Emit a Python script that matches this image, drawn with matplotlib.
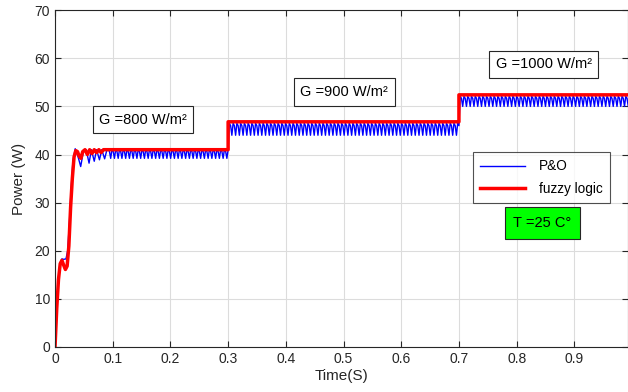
import numpy as np
import matplotlib.pyplot as plt

plt.rcParams['font.family'] = ['Liberation Sans', 'DejaVu Sans']

# fuzzy logic output power (W)
fz_t = [0, 0.003, 0.006, 0.009, 0.012, 0.015, 0.018, 0.021, 0.024, 0.027,
        0.030, 0.033, 0.036, 0.039, 0.042, 0.045, 0.048, 0.052, 0.056, 0.060,
        0.064, 0.068, 0.072, 0.076, 0.080, 0.084, 0.090, 0.300, 0.300, 0.700,
        0.700, 1.000]
fz_p = [0, 8, 14, 17.3, 18, 17, 16.1, 16.8, 21, 29,
        35, 39.5, 40.8, 40.6, 39.6, 39.2, 40.6, 41, 40, 41,
        40.2, 41, 40.4, 41, 40.4, 41, 41, 41, 46.8, 46.8,
        52.4, 52.4]

# P&O start-up transient
po_t = [0, 0.003, 0.006, 0.009, 0.012, 0.015, 0.019, 0.022, 0.025, 0.028,
        0.031, 0.035, 0.040, 0.0445, 0.049, 0.054, 0.059, 0.063, 0.068,
        0.072, 0.077, 0.081, 0.086, 0.090]
po_p = [0, 8, 14, 17.5, 18.3, 18.2, 18.3, 20, 26, 33,
        38.5, 41.2, 39.5, 37.5, 40.5, 41, 38.2, 41, 38.6, 41,
        38.9, 41, 39.1, 41]

# P&O steady ripple per irradiance step: start, end, low, high
seg_start = [0.090, 0.300, 0.700]
seg_end = [0.300, 0.700, 1.000]
seg_low = [39.2, 44.0, 50.0]
seg_high = [41.0, 46.5, 52.1]
ripple_period = 0.0065
# one ripple cycle as fraction of the band (sharp dip, broad top)
ripple_shape = [1.0, 0.8, 0.0]

t_all = list(po_t)
p_all = list(po_p)
k = len(ripple_shape)
for a, b, lo, hi in zip(seg_start, seg_end, seg_low, seg_high):
    n = int(round((b - a) / (ripple_period / k)))
    ts = np.linspace(a, b, n + 1)[1:]
    frac = np.tile(ripple_shape, n // k + 1)[:n]
    t_all += list(ts)
    p_all += list(lo + frac * (hi - lo))

fig = plt.figure(figsize=(6.28, 3.92), dpi=100)
ax = fig.add_axes([0.0876, 0.115, 0.9124, 0.859])

ax.plot(t_all, p_all, color='#0000ff', lw=1.0, label='P&O')
ax.plot(fz_t, fz_p, color='#ff0000', lw=2.5, label='fuzzy logic')

ax.set_xlim(0, 0.993)
ax.set_ylim(0, 70)
ax.set_xticks(np.arange(0, 1.0, 0.1))
ax.set_xticklabels(['0', '0.1', '0.2', '0.3', '0.4', '0.5', '0.6', '0.7', '0.8', '0.9'])
ax.set_yticks(range(0, 71, 10))
ax.grid(True, color='#dcdcdc', lw=0.8)
ax.set_axisbelow(True)
ax.tick_params(direction='in', length=4, width=0.8, colors='#262626',
               labelsize=10, top=True, right=True)
for s in ax.spines.values():
    s.set_color('#262626')
    s.set_linewidth(0.8)

ax.set_xlabel('Time(S)', fontsize=11, color='#262626', labelpad=2)
ax.set_ylabel('Power (W)', fontsize=11, color='#262626', labelpad=6)

box = dict(boxstyle='square,pad=0.45', fc='white', ec='#262626', lw=0.8)
ax.text(0.1525, 47.2, 'G =800 W/m²', ha='center', va='center', fontsize=10.5, bbox=box)
ax.text(0.501, 53.0, 'G =900 W/m²', ha='center', va='center', fontsize=10.5, bbox=box)
ax.text(0.847, 58.8, 'G =1000 W/m²', ha='center', va='center', fontsize=10.5, bbox=box)
ax.text(0.845, 25.8, 'T =25 C°', ha='center', va='center', fontsize=10.5,
        bbox=dict(boxstyle='square,pad=0.6', fc='#00ff00', ec='#262626', lw=0.8))

leg = ax.legend(loc='upper left', bbox_to_anchor=(0.729, 0.579), fontsize=9.8,
                frameon=True, fancybox=False, edgecolor='#262626',
                handlelength=3.3, handletextpad=1.0, borderpad=0.55,
                labelspacing=0.6, borderaxespad=0)
leg.get_frame().set_linewidth(0.8)

fig.savefig('out.png', dpi=100)
